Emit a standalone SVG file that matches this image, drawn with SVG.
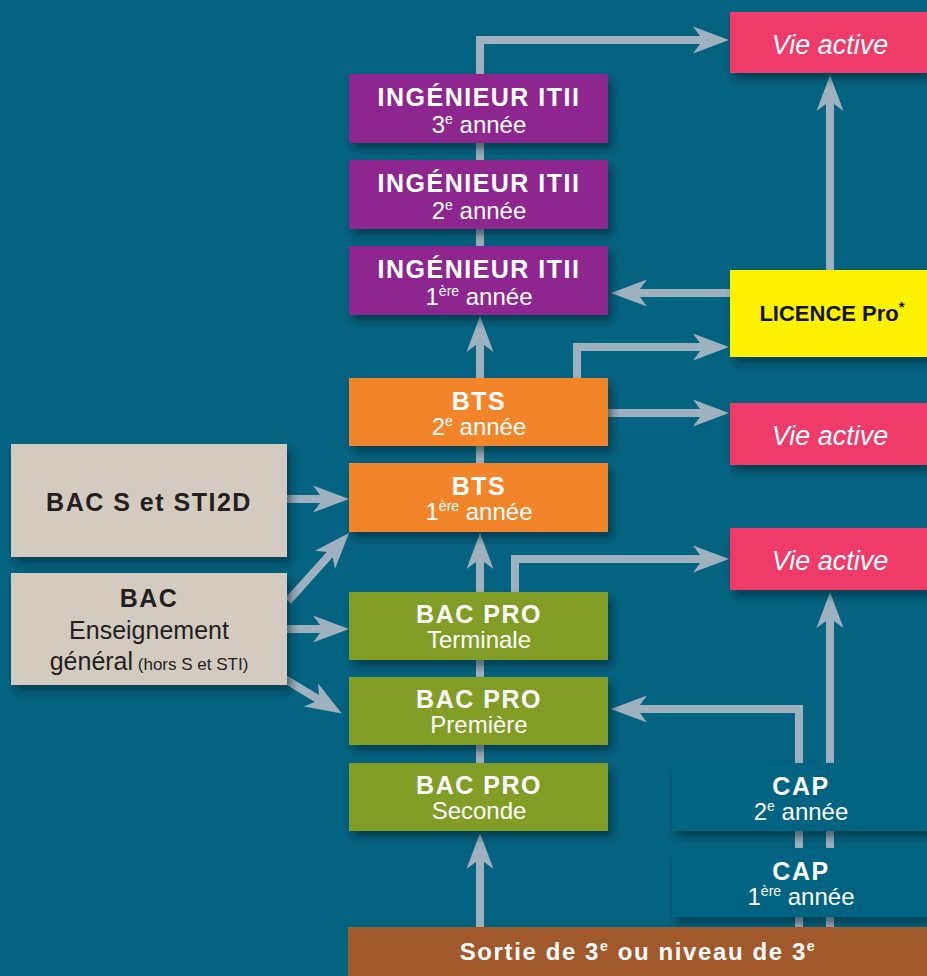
<svg xmlns="http://www.w3.org/2000/svg" width="927" height="976" viewBox="0 0 927 976">
<defs>
<marker id="ah" markerUnits="userSpaceOnUse" markerWidth="40" markerHeight="30" refX="10" refY="0" orient="auto" overflow="visible">
<path d="M0,-13.5 L36,0 L0,13.5 L10,0 Z" fill="#9EB1BF"/>
</marker>
<filter id="sh" x="-10%" y="-20%" width="130%" height="160%">
<feDropShadow dx="4" dy="6" stdDeviation="4" flood-color="#00202c" flood-opacity="0.55"/>
</filter>
<style>
.c{fill:none;stroke:#9EB1BF;stroke-width:8;stroke-linejoin:miter}
.a{marker-end:url(#ah)}
text{font-family:"Liberation Sans",Arial,sans-serif;text-anchor:middle;fill:#fff}
.b{font-weight:bold;font-size:25px;letter-spacing:1.5px}
.r{font-size:24px}
.sup{font-size:14px}
.va{font-style:italic;font-size:27px}
.dk{fill:#231F20}
.purple{fill:#8E278F;filter:url(#sh)}
.orange{fill:#F28529;filter:url(#sh)}
.green{fill:#819D26;filter:url(#sh)}
.pink{fill:#EE3A6B;filter:url(#sh)}
.yellow{fill:#FFF200;filter:url(#sh)}
.beige{fill:#D3CBC0;filter:url(#sh)}
.cap{fill:#046381;filter:url(#sh)}
.brown{fill:#A1582A}
</style>
</defs>
<rect x="0" y="0" width="927" height="976" fill="#046381"/>

<g id="connectors">
<path class="c a" d="M480,927 V859"/>
<path class="c" d="M480,770 V650"/>
<path class="c a" d="M480,600 V559"/>
<path class="c" d="M480,470 V440"/>
<path class="c a" d="M480,385 V342"/>
<path class="c" d="M480,250 V140"/>
<path class="c a" d="M480,80 V40 H703"/>
<path class="c a" d="M736,293 H637"/>
<path class="c a" d="M577,385 V347 H703"/>
<path class="c a" d="M600,413 H703"/>
<path class="c a" d="M830,276 V101"/>
<path class="c a" d="M280,499 H323"/>
<path class="c a" d="M288,601 L331.7,552.4"/>
<path class="c a" d="M280,629 H323"/>
<path class="c a" d="M283,678 L319.5,700"/>
<path class="c a" d="M515,600 V559 H703"/>
<path class="c a" d="M799,927 V709 H637"/>
<path class="c a" d="M830,927 V618"/>
</g>

<g id="itii3">
<rect class="purple" x="349" y="74" width="259" height="69"/>
<text class="b" x="479" y="106">INGÉNIEUR ITII</text>
<text class="r" x="479" y="133">3<tspan class="sup" dy="-9">e</tspan><tspan dy="9"> année</tspan></text>
</g>
<g id="itii2">
<rect class="purple" x="349" y="160" width="259" height="69"/>
<text class="b" x="479" y="192">INGÉNIEUR ITII</text>
<text class="r" x="479" y="219">2<tspan class="sup" dy="-9">e</tspan><tspan dy="9"> année</tspan></text>
</g>
<g id="itii1">
<rect class="purple" x="349" y="246" width="259" height="69"/>
<text class="b" x="479" y="278">INGÉNIEUR ITII</text>
<text class="r" x="479" y="305">1<tspan class="sup" dy="-9">ère</tspan><tspan dy="9"> année</tspan></text>
</g>
<g id="bts2">
<rect class="orange" x="349" y="378" width="259" height="68"/>
<text class="b" x="479" y="410">BTS</text>
<text class="r" x="479" y="435">2<tspan class="sup" dy="-9">e</tspan><tspan dy="9"> année</tspan></text>
</g>
<g id="bts1">
<rect class="orange" x="349" y="463" width="259" height="69"/>
<text class="b" x="479" y="495">BTS</text>
<text class="r" x="479" y="520">1<tspan class="sup" dy="-9">ère</tspan><tspan dy="9"> année</tspan></text>
</g>
<g id="bacpro-terminale">
<rect class="green" x="349" y="592" width="259" height="68"/>
<text class="b" x="479" y="623">BAC PRO</text>
<text class="r" x="479" y="648">Terminale</text>
</g>
<g id="bacpro-premiere">
<rect class="green" x="349" y="677" width="259" height="68"/>
<text class="b" x="479" y="708">BAC PRO</text>
<text class="r" x="479" y="733">Première</text>
</g>
<g id="bacpro-seconde">
<rect class="green" x="349" y="763" width="259" height="68"/>
<text class="b" x="479" y="794">BAC PRO</text>
<text class="r" x="479" y="819">Seconde</text>
</g>
<g id="bac-s">
<rect class="beige" x="11" y="444" width="276" height="113"/>
<text class="b dk" x="149" y="511">BAC S et STI2D</text>
</g>
<g id="bac-gen">
<rect class="beige" x="11" y="573" width="276" height="112"/>
<text class="b dk" x="149" y="607">BAC</text>
<text class="r dk" x="149" y="639" style="font-size:25px">Enseignement</text>
<text class="r dk" x="149" y="670"><tspan style="font-size:25px">général</tspan><tspan style="font-size:17px"> (hors S et STI)</tspan></text>
</g>
<g id="vie-active-1">
<rect class="pink" x="730" y="12" width="197" height="61"/>
<text class="va" x="830" y="54">Vie active</text>
</g>
<g id="licence-pro">
<rect class="yellow" x="730" y="270" width="197" height="87"/>
<text x="832" y="321" style="font-weight:bold;font-size:22px;fill:#111">LICENCE Pro<tspan dy="-9" style="font-size:15px">*</tspan></text>
</g>
<g id="vie-active-2">
<rect class="pink" x="730" y="403" width="197" height="62"/>
<text class="va" x="830" y="445">Vie active</text>
</g>
<g id="vie-active-3">
<rect class="pink" x="730" y="528" width="197" height="62"/>
<text class="va" x="830" y="570">Vie active</text>
</g>
<g id="cap2">
<rect class="cap" x="672" y="763" width="255" height="68"/>
<text class="b" x="801" y="795">CAP</text>
<text class="r" x="801" y="820">2<tspan class="sup" dy="-9">e</tspan><tspan dy="9"> année</tspan></text>
</g>
<g id="cap1">
<rect class="cap" x="672" y="848" width="255" height="69"/>
<text class="b" x="801" y="880">CAP</text>
<text class="r" x="801" y="905">1<tspan class="sup" dy="-9">ère</tspan><tspan dy="9"> année</tspan></text>
</g>
<g id="sortie">
<rect class="brown" x="348" y="927" width="579" height="49"/>
<text class="b" x="638" y="960" style="font-size:24px;letter-spacing:1.6px">Sortie de 3<tspan class="sup" dy="-9">e</tspan><tspan dy="9"> ou niveau de 3</tspan><tspan class="sup" dy="-9">e</tspan></text>
</g>
</svg>
